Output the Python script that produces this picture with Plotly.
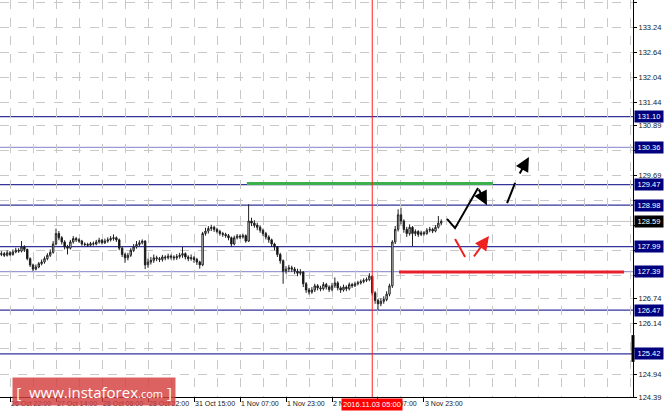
import plotly.graph_objects as go

# ---------------- data ----------------
bar_index = list(range(-3, 151))  # hourly bars, 0 = 26 Oct 22:00

opens = [127.80,127.82,127.78,127.84,127.80,127.86,127.90,127.88,127.98,127.92,127.70,127.55,127.45,127.50,127.58,127.62,
 127.70,127.78,127.85,128.05,128.30,128.20,128.10,127.98,127.95,128.10,128.18,128.15,128.12,128.05,128.04,128.02,
 128.06,128.05,128.10,128.14,128.08,128.12,128.15,128.18,128.20,128.15,127.95,127.80,127.72,127.78,127.90,127.98,
 128.04,128.08,128.12,127.55,127.62,127.66,127.72,127.70,127.68,127.74,127.72,127.76,127.74,127.72,127.75,127.78,
 127.82,127.74,127.70,127.72,127.68,127.62,127.55,128.30,128.36,128.42,128.45,128.40,128.35,128.30,128.28,128.25,
 128.20,128.05,128.20,128.24,128.22,128.25,128.12,128.60,128.55,128.50,128.45,128.38,128.30,128.22,128.15,128.05,
 127.98,127.80,127.65,127.40,127.45,127.48,127.45,127.40,127.35,127.38,127.10,126.95,126.90,126.95,127.05,127.00,
 126.98,127.08,127.02,126.96,127.05,127.12,127.00,126.95,127.02,126.98,127.08,127.05,127.10,127.12,127.15,127.18,
 127.20,127.28,126.88,126.70,126.62,126.68,126.72,126.85,127.05,128.10,128.40,128.75,128.60,128.40,128.30,128.45,
 128.30,128.35,128.28,128.32,128.30,128.38,128.40,128.36,128.45,128.55]
closes = [127.82,127.78,127.84,127.80,127.86,127.90,127.88,127.98,127.92,127.70,127.55,127.45,127.50,127.58,127.62,127.70,
 127.78,127.85,128.05,128.30,128.20,128.10,127.98,127.95,128.10,128.18,128.15,128.12,128.05,128.04,128.02,128.06,
 128.05,128.10,128.14,128.08,128.12,128.15,128.18,128.20,128.15,127.95,127.80,127.72,127.78,127.90,127.98,128.04,
 128.08,128.12,127.55,127.62,127.66,127.72,127.70,127.68,127.74,127.72,127.76,127.74,127.72,127.75,127.78,127.82,
 127.74,127.70,127.72,127.68,127.62,127.55,128.30,128.36,128.42,128.45,128.40,128.35,128.30,128.28,128.25,128.20,
 128.05,128.20,128.24,128.22,128.25,128.12,128.60,128.55,128.50,128.45,128.38,128.30,128.22,128.15,128.05,127.98,
 127.80,127.65,127.40,127.45,127.48,127.45,127.40,127.35,127.38,127.10,126.95,126.90,126.95,127.05,127.00,126.98,
 127.08,127.02,126.96,127.05,127.12,127.00,126.95,127.02,126.98,127.08,127.05,127.10,127.12,127.15,127.18,127.20,
 127.28,126.88,126.70,126.62,126.68,126.72,126.85,127.05,128.10,128.40,128.75,128.60,128.40,128.30,128.45,128.30,
 128.35,128.28,128.32,128.30,128.38,128.40,128.36,128.45,128.55,128.59]
highs = [127.88,127.86,127.90,127.88,127.92,127.96,127.95,128.12,128.02,127.94,127.73,127.58,127.56,127.62,127.68,127.75,
 127.83,127.92,128.12,128.42,128.36,128.24,128.14,128.03,128.15,128.24,128.22,128.19,128.15,128.09,128.08,128.10,
 128.11,128.15,128.20,128.17,128.18,128.21,128.24,128.28,128.23,128.18,127.98,127.84,127.84,127.95,128.05,128.12,
 128.14,128.16,128.14,127.70,127.74,127.80,127.77,127.74,127.79,127.78,127.82,127.80,127.78,127.81,127.84,127.98,
 127.85,127.78,127.80,127.76,127.72,127.65,128.34,128.44,128.48,128.51,128.49,128.44,128.39,128.34,128.32,128.29,
 128.23,128.25,128.29,128.28,128.30,128.28,129.00,128.68,128.62,128.56,128.49,128.42,128.34,128.26,128.18,128.08,
 128.00,127.84,127.68,127.52,127.55,127.53,127.50,127.46,127.45,127.40,127.14,127.00,127.02,127.10,127.09,127.05,
 127.14,127.12,127.06,127.12,127.25,127.16,127.04,127.08,127.06,127.13,127.12,127.15,127.17,127.20,127.23,127.25,
 127.35,127.30,126.92,126.74,126.75,126.80,126.92,127.10,128.14,128.48,128.88,128.92,128.64,128.46,128.52,128.48,
 128.40,128.38,128.37,128.36,128.43,128.46,128.44,128.50,128.72,128.64]
lows = [127.76,127.74,127.75,127.76,127.77,127.83,127.84,127.85,127.86,127.66,127.50,127.40,127.42,127.47,127.54,127.58,
 127.66,127.74,127.82,128.02,128.14,128.04,127.92,127.80,127.92,128.06,128.10,128.08,128.01,128.00,127.98,127.99,
 128.01,128.02,128.06,128.04,128.05,128.08,128.11,128.13,128.10,127.90,127.74,127.60,127.66,127.74,127.86,127.94,
 128.00,128.04,127.45,127.48,127.56,127.60,127.64,127.62,127.63,127.66,127.68,127.68,127.66,127.67,127.70,127.72,
 127.68,127.64,127.65,127.60,127.55,127.46,127.52,128.25,128.30,128.36,128.34,128.30,128.25,128.22,128.20,128.14,
 127.98,128.02,128.16,128.17,128.18,128.08,128.10,128.48,128.44,128.38,128.32,128.24,128.16,128.08,127.98,127.90,
 127.74,127.58,127.10,127.34,127.38,127.38,127.33,127.28,127.30,127.02,126.88,126.84,126.86,126.90,126.94,126.92,
 126.94,126.96,126.90,126.92,127.00,126.94,126.88,126.91,126.92,126.94,127.00,127.02,127.06,127.08,127.11,127.14,
 127.16,126.82,126.62,126.47,126.56,126.62,126.68,126.80,127.00,128.05,128.35,128.52,128.32,128.22,128.25,128.00,
 128.24,128.22,128.24,128.25,128.27,128.33,128.31,128.33,128.42,128.50]

time_tick_bars = [0, 16, 32, 48, 64, 80, 96, 112, 128, 144]
time_tick_labels = ["26 Oct 22:00", "27 Oct 14:00", "28 Oct 06:00", "28 Oct 22:00", "31 Oct 15:00",
                    "1 Nov 07:00", "1 Nov 23:00", "2 Nov 15:00", "3 Nov 07:00", "3 Nov 23:00"]

price_ticks = [133.84, 133.24, 132.64, 132.04, 131.44, 130.89, 130.29, 129.69, 129.09,
               128.49, 127.89, 127.29, 126.74, 126.14, 125.54, 124.94, 124.39]
# tick labels that sit underneath a level box in the reference (grid line kept, label covered)
price_ticks_covered = [130.29, 129.09, 128.49, 127.89, 127.29, 125.54]

levels = [131.10, 130.36, 129.47, 128.98, 127.99, 127.39, 126.47, 125.42]
level_light = [False, True, False, False, False, True, False, False]
bid_price = 128.59

cursor_bar = 126
cursor_label = "2016.11.03 05:00"

green_line_x = [82.4, 168.0]
green_line_y = [129.50, 129.50]
red_line_x = [135.3, 213.6]
red_line_y = [127.38, 127.38]

black_path_x = [152.0, 154.8, 162.8]
black_path_y = [128.65, 128.43, 129.39]
black_arrow1 = (162.8, 129.39, 165.9, 128.98)   # tail x, tail y, head x, head y
black_seg_x = [172.9, 175.7]
black_seg_y = [129.03, 129.51]
black_arrow2 = (177.0, 129.70, 180.5, 130.13)
red_seg_x = [154.8, 158.3]
red_seg_y = [128.17, 127.74]
red_arrow = (161.0, 127.72, 166.6, 128.24)

x_range = [-3.48, 216.7]
y_range = [124.39, 133.888]

# ---------------- figure ----------------
fig = go.Figure()

shapes = []
for lv, light in zip(levels, level_light):
    shapes.append(dict(type="line", xref="paper", x0=0, x1=1, yref="y", y0=lv, y1=lv,
                       line=dict(color="#9a9ad6" if light else "#33339a", width=1.2), layer="below"))
shapes.append(dict(type="line", xref="paper", x0=0, x1=1, yref="y", y0=bid_price, y1=bid_price,
                   line=dict(color="#c4c4c4", width=1), layer="below"))
shapes.append(dict(type="line", xref="x", x0=cursor_bar, x1=cursor_bar, yref="paper", y0=0, y1=1,
                   line=dict(color="#ff2020", width=1)))
shapes.append(dict(type="line", xref="paper", x0=1, x1=1, yref="y", y0=125.23, y1=125.87,
                   line=dict(color="black", width=3)))
fig.update_layout(shapes=shapes)

fig.add_trace(go.Candlestick(
    x=bar_index, open=opens, high=highs, low=lows, close=closes,
    increasing=dict(line=dict(color="#202020", width=1), fillcolor="white"),
    decreasing=dict(line=dict(color="#202020", width=1), fillcolor="black"),
    whiskerwidth=0, showlegend=False, hoverinfo="skip"))

fig.add_trace(go.Scatter(x=green_line_x, y=green_line_y, mode="lines",
                         line=dict(color="#3cb04a", width=3), showlegend=False, hoverinfo="skip"))
fig.add_trace(go.Scatter(x=red_line_x, y=red_line_y, mode="lines",
                         line=dict(color="#e8202a", width=3), showlegend=False, hoverinfo="skip"))
fig.add_trace(go.Scatter(x=black_path_x, y=black_path_y, mode="lines",
                         line=dict(color="black", width=2), showlegend=False, hoverinfo="skip"))
fig.add_trace(go.Scatter(x=black_seg_x, y=black_seg_y, mode="lines",
                         line=dict(color="black", width=2), showlegend=False, hoverinfo="skip"))
fig.add_trace(go.Scatter(x=red_seg_x, y=red_seg_y, mode="lines",
                         line=dict(color="#ee2020", width=2), showlegend=False, hoverinfo="skip"))

annotations = []
for (tx, ty, hx, hy), col in [(black_arrow1, "black"), (black_arrow2, "black"), (red_arrow, "#ee2020")]:
    annotations.append(dict(x=hx, y=hy, ax=tx, ay=ty, xref="x", yref="y", axref="x", ayref="y",
                            showarrow=True, arrowhead=2, arrowsize=1.4, arrowwidth=2,
                            arrowcolor=col, text=""))

for lv in levels:
    annotations.append(dict(x=1, xref="paper", y=lv, yref="y", xanchor="left", yanchor="middle",
                            xshift=1, text=f"{lv:.2f}", showarrow=False, bgcolor="#00007f",
                            font=dict(color="white", size=7.5, family="Liberation Sans"),
                            borderpad=1, width=26))
annotations.append(dict(x=1, xref="paper", y=bid_price, yref="y", xanchor="left", yanchor="middle",
                        xshift=1, text=f"{bid_price:.2f}", showarrow=False, bgcolor="black",
                        font=dict(color="white", size=7.5, family="Liberation Sans"),
                        borderpad=1, width=26))
annotations.append(dict(x=cursor_bar, xref="x", y=0, yref="paper", yanchor="top", xanchor="center",
                        yshift=-1, text=cursor_label, showarrow=False, bgcolor="#ff0000",
                        font=dict(color="white", size=7.5, family="Liberation Sans"), borderpad=1))
annotations.append(dict(x=0.1485, xref="paper", y=0.0139, yref="paper", xanchor="center", yanchor="middle",
                        text="[  www.instaforex<span style='font-size:11px'>.com</span> ]",
                        showarrow=False, bgcolor="rgba(212,64,64,0.82)", width=160, height=25,
                        font=dict(color="white", size=15, family="Open Sans")))
fig.update_layout(annotations=annotations)

fig.update_layout(
    width=664, height=416,
    margin=dict(l=0, r=31, t=0, b=19, autoexpand=False),
    paper_bgcolor="white", plot_bgcolor="white",
    xaxis=dict(range=x_range, rangeslider=dict(visible=False),
               tickmode="array", tickvals=time_tick_bars, ticktext=time_tick_labels,
               ticklabelposition="outside right", tickangle=0,
               ticks="outside", ticklen=4, tickcolor="black",
               showgrid=False, zeroline=False, showline=True, linecolor="black", linewidth=1,
               tickfont=dict(size=7, color="#202020", family="Liberation Sans"),
               minor=dict(tickmode="linear", tick0=0, dtick=8, showgrid=True,
                          gridcolor="#c8c8c8", griddash="dash", gridwidth=1, ticks="")),
    yaxis=dict(range=y_range, side="right", tickmode="array", tickvals=price_ticks,
               ticktext=["" if v in price_ticks_covered else f"{v:.2f}" for v in price_ticks],
               ticks="outside", ticklen=3, tickcolor="black",
               showgrid=True, gridcolor="#c8c8c8", griddash="dash", gridwidth=1,
               zeroline=False, showline=True, linecolor="black", linewidth=1,
               tickfont=dict(size=7.5, color="#202020", family="Liberation Sans")),
    hovermode=False,
)

fig.write_html("out.html", config={"displayModeBar": False},
               post_script="document.body.style.margin='0';document.body.style.overflow='hidden';")
